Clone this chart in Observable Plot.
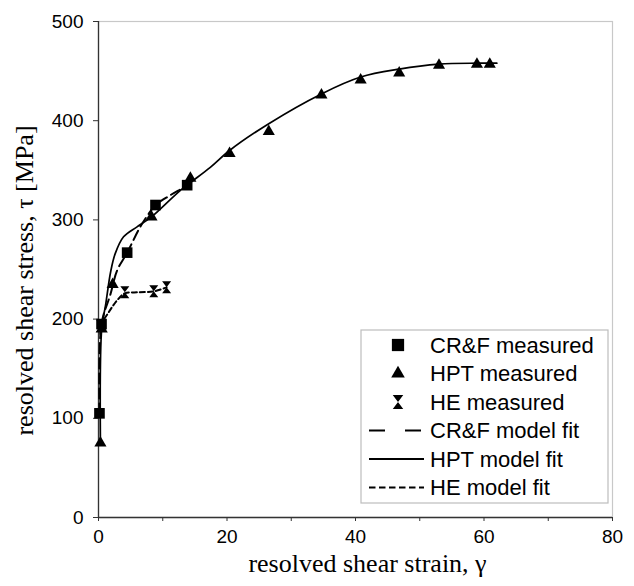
<!DOCTYPE html>
<html>
<head>
<meta charset="utf-8">
<script src="https://cdn.jsdelivr.net/npm/d3@7"></script>
<script src="https://cdn.jsdelivr.net/npm/@observablehq/plot@0.6"></script>
<style>
  html, body { margin: 0; padding: 0; background: #fff; }
  #chart { width: 634px; height: 586px; }
</style>
</head>
<body>
<div id="chart"></div>
<script>
// ---- data ----
const crfX = [0.15, 0.47, 4.46, 8.87, 13.8];
const crfY = [105, 195, 267, 315, 335];

const hptX = [0.3, 0.5, 2.2, 8.25, 14.3, 20.4, 26.5, 34.7, 40.8, 46.8, 53.0, 58.9, 60.9];
const hptY = [75, 190, 235, 303, 342, 367, 389, 426, 441, 448, 456, 457, 457];

const heX = [0.35, 4.1, 8.6, 10.6];
const heY = [193, 227, 228, 232];

const crfFitX = [0.15, 0.47, 1.86, 2.9, 4.46, 6.5, 7.8, 8.87, 11.2, 13.8, 14.6];
const crfFitY = [105, 195, 225, 249, 267, 293, 306, 315, 325, 335, 340];

const hptFitX = [0.3, 0.5, 1.1, 1.9, 2.6, 3.9, 6.0, 8.25, 12.8, 17.4, 20.4, 26.5, 34.7, 40.8, 46.8, 53.0, 59.0, 62.0];
const hptFitY = [75, 190, 214, 248, 266, 283, 293, 303, 330, 353, 370, 397, 427, 444, 452, 457, 458, 458];

const heFitX = [0.3, 0.5, 1.6, 2.9, 4.1, 6.0, 8.6, 10.6];
const heFitY = [185, 195, 207, 219, 226, 227, 228, 232];

const xTicks = [0, 10, 20, 30, 40, 50, 60, 70, 80];
const yTicks = [0, 100, 200, 300, 400, 500];

const legendLabels = ["CR&F measured", "HPT measured", "HE measured", "CR&F model fit", "HPT model fit", "HE model fit"];

const zip = (xs, ys) => xs.map((x, i) => ({x, y: ys[i]}));
const crf = zip(crfX, crfY), hpt = zip(hptX, hptY), he = zip(heX, heY);
const crfFit = zip(crfFitX, crfFitY), hptFit = zip(hptFitX, hptFitY), heFit = zip(heFitX, heFitY);

const hourglass = {
  draw(ctx, size) {
    const r = Math.sqrt(size / Math.PI);
    const w = 0.75 * r, h = r;
    ctx.moveTo(-w, -h); ctx.lineTo(w, -h); ctx.lineTo(-w, h); ctx.lineTo(w, h); ctx.closePath();
  }
};

const sans = "'Liberation Sans', Arial, sans-serif";
const serif = "'Liberation Serif', 'Times New Roman', serif";

const chart = Plot.plot({
  width: 634,
  height: 586,
  marginLeft: 98,
  marginRight: 22,
  marginTop: 21,
  marginBottom: 69,
  style: {fontFamily: sans, fontSize: "19px", color: "#000", background: "#fff"},
  x: {domain: [0, 80]},
  y: {domain: [0, 500]},
  marks: [
    Plot.frame({stroke: "#c8c8c8", strokeWidth: 1.2}),
    Plot.axisX({ticks: xTicks, tickSize: 4, tickPadding: 8, tickFormat: d => d % 20 === 0 ? d : "", label: null, stroke: "#333", fontSize: 19}),
    Plot.axisY({ticks: yTicks, tickSize: 5, tickPadding: 10, label: null, stroke: "#333", fontSize: 19}),
    Plot.ruleX([0], {stroke: "#333", strokeWidth: 1.3}),
    Plot.ruleY([0], {stroke: "#333", strokeWidth: 1.3}),
    Plot.line(heFit, {x: "x", y: "y", stroke: "#000", strokeWidth: 2, strokeDasharray: "5,3", curve: "catmull-rom"}),
    Plot.line(crfFit, {x: "x", y: "y", stroke: "#000", strokeWidth: 2, strokeDasharray: "10,5", curve: "catmull-rom"}),
    Plot.line(hptFit, {x: "x", y: "y", stroke: "#000", strokeWidth: 1.7, curve: "catmull-rom"}),
    Plot.dot(crf, {x: "x", y: "y", symbol: "square", r: 6, fill: "#000", stroke: "none"}),
    Plot.dot(hpt, {x: "x", y: "y", symbol: "triangle", r: 4.5, fill: "#000", stroke: "none"}),
    Plot.dot(he, {x: "x", y: "y", symbol: hourglass, r: 6, fill: "#000", stroke: "none"}),
    Plot.text(["resolved shear strain, γ"], {frameAnchor: "bottom", dx: 12, dy: 54, fontFamily: serif, fontSize: 26, fill: "#000", textAnchor: "middle"}),
    Plot.text(["resolved shear stress, τ [MPa]"], {frameAnchor: "left", dx: -74, dy: 11, rotate: -90, fontFamily: serif, fontSize: 26, fill: "#000", textAnchor: "middle"})
  ]
});
document.getElementById("chart").appendChild(chart);

// ---- legend (inside plot area, lower right) ----
const svg = d3.select(chart);
const lg = svg.append("g").attr("transform", "translate(361,330)");
lg.append("rect").attr("width", 247).attr("height", 173).attr("fill", "#fff").attr("stroke", "#bdbdbd").attr("stroke-width", 1.2);
const rowH = 28.5, y0 = 15;
const symGen = [d3.symbol(d3.symbolSquare, 150), d3.symbol(d3.symbolTriangle, 80), d3.symbol(hourglass, Math.PI * 49)];
legendLabels.forEach((lab, i) => {
  const cy = y0 + i * rowH;
  if (i < 3) {
    lg.append("path").attr("d", symGen[i]()).attr("transform", `translate(37,${cy})`).attr("fill", "#000");
  } else {
    const dash = i === 3 ? "16,20" : i === 5 ? "6.5,3.5" : null;
    const ln = lg.append("line").attr("x1", 8).attr("x2", 63).attr("y1", cy).attr("y2", cy)
      .attr("stroke", "#000").attr("stroke-width", 1.8);
    if (dash) ln.attr("stroke-dasharray", dash);
  }
  lg.append("text").attr("x", 69).attr("y", cy).attr("dy", "0.35em").attr("text-anchor", "start")
    .attr("font-family", sans).attr("font-size", 22).attr("fill", "#000").text(lab);
});
</script>
</body>
</html>
